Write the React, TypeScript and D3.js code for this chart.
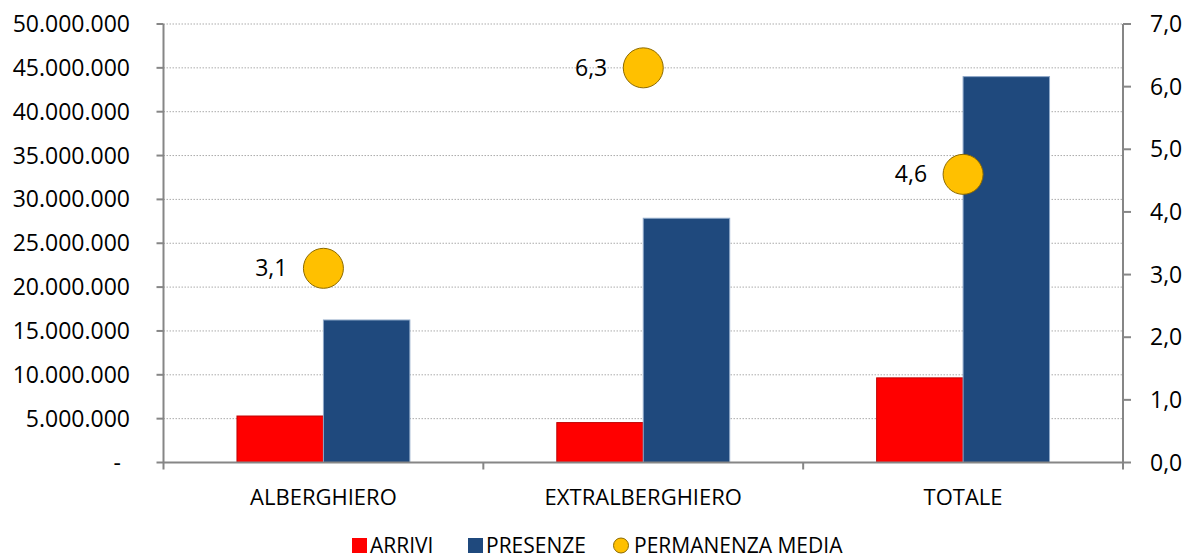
import React from 'react';
import * as d3 from 'd3';

// values
const categories = ['ALBERGHIERO', 'EXTRALBERGHIERO', 'TOTALE'];
const arrivi = [5300000, 4550000, 9650000];
const presenze = [16250000, 27850000, 44000000];
const permanenza = [3.1, 6.3, 4.6];
const leftTicks = [0, 5e6, 10e6, 15e6, 20e6, 25e6, 30e6, 35e6, 40e6, 45e6, 50e6];
const rightTicks = [0, 1, 2, 3, 4, 5, 6, 7];
const seriesNames = ['ARRIVI', 'PRESENZE'];

const W = 1187;
const H = 559;
const margin = { top: 24, right: 64, bottom: 96.5, left: 163.5 };
const FONT = '"Open Sans", sans-serif';

const itLocale = d3.formatLocale({ decimal: ',', thousands: '.', grouping: [3], currency: ['€', ''] });
const fmtBig = itLocale.format(',.0f');
const fmtSmall = itLocale.format('.1f');

const colors = { ARRIVI: '#FF0000', PRESENZE: '#1F497D' };
const strokes = { ARRIVI: '#C00000', PRESENZE: '#8FA8C8' };

const App: React.FC = () => {
  const x0 = margin.left;
  const x1 = W - margin.right;
  const yBottom = H - margin.bottom;

  const x = d3.scaleBand().domain(categories).range([x0, x1]).padding(0);
  const xSeries = d3.scaleBand().domain(seriesNames).range([0, x.bandwidth()]).paddingInner(0).paddingOuter(0.85);
  const yLeft = d3.scaleLinear().domain([0, 50e6]).range([yBottom, margin.top]);
  const yRight = d3.scaleLinear().domain([0, 7]).range([yBottom, margin.top]);

  const axisColor = '#868686';
  const legendY = 553; // text baseline

  return (
    <div style={{ position: 'fixed', left: 0, top: 0, width: W, height: H, background: '#fff' }}>
      <svg width={W} height={H} style={{ display: 'block', fontFamily: FONT }}>
        {/* gridlines */}
        {leftTicks.filter(t => t > 0).map(t => (
          <line key={'g' + t} x1={x0} x2={x1} y1={yLeft(t)} y2={yLeft(t)}
            stroke="#ABABAB" strokeWidth={1} strokeDasharray="1.5 1.5" />
        ))}

        {/* bars */}
        {categories.map((c, i) => (
          <g key={c} transform={`translate(${x(c)},0)`}>
            {seriesNames.map(s => {
              const v = s === 'ARRIVI' ? arrivi[i] : presenze[i];
              return (
                <rect key={s} x={xSeries(s)} y={yLeft(v)} width={xSeries.bandwidth()}
                  height={yBottom - yLeft(v)} fill={colors[s]} stroke={strokes[s]} strokeWidth={1} />
              );
            })}
          </g>
        ))}

        {/* left axis */}
        <line x1={x0} x2={x0} y1={margin.top} y2={yBottom + 7} stroke={axisColor} strokeWidth={2} />
        {leftTicks.map(t => (
          <g key={'l' + t}>
            <line x1={x0 - 7} x2={x0} y1={yLeft(t)} y2={yLeft(t)} stroke={axisColor} strokeWidth={2} />
            <text x={t === 0 ? 121 : 130} y={yLeft(t)} dy="0.35em" textAnchor="end" fontSize={23} fill="#000">
              {t === 0 ? '-' : fmtBig(t)}
            </text>
          </g>
        ))}

        {/* right axis */}
        <line x1={x1} x2={x1} y1={margin.top} y2={yBottom + 7} stroke={axisColor} strokeWidth={2} />
        {rightTicks.map(t => (
          <g key={'r' + t}>
            <line x1={x1} x2={x1 + 8} y1={yRight(t)} y2={yRight(t)} stroke={axisColor} strokeWidth={2} />
            <text x={1150} y={yRight(t)} dy="0.35em" textAnchor="start" fontSize={23} fill="#000">
              {fmtSmall(t)}
            </text>
          </g>
        ))}

        {/* bottom axis */}
        <line x1={x0} x2={x1} y1={yBottom} y2={yBottom} stroke={axisColor} strokeWidth={2} />
        {categories.slice(1).map(c => (
          <line key={'b' + c} x1={x(c)} x2={x(c)} y1={yBottom} y2={yBottom + 7} stroke={axisColor} strokeWidth={2} />
        ))}
        {categories.map(c => (
          <text key={'c' + c} x={(x(c) || 0) + x.bandwidth() / 2} y={505} textAnchor="middle" fontSize={22} fill="#000">
            {c}
          </text>
        ))}

        {/* permanenza media */}
        {categories.map((c, i) => {
          const cx = (x(c) || 0) + x.bandwidth() / 2;
          const cy = yRight(permanenza[i]);
          return (
            <g key={'p' + c}>
              <circle cx={cx} cy={cy} r={20} fill="#FFC000" stroke="#8C6A00" strokeWidth={1} />
              <text x={cx - 36} y={cy} dy="0.35em" textAnchor="end" fontSize={23} fill="#000">
                {fmtSmall(permanenza[i])}
              </text>
            </g>
          );
        })}

        {/* legend */}
        <rect x={352} y={legendY - 15} width={15} height={15} fill={colors.ARRIVI} />
        <text x={370} y={legendY} fontSize={21} fill="#000">ARRIVI</text>
        <rect x={468} y={legendY - 15} width={15} height={15} fill={colors.PRESENZE} />
        <text x={486} y={legendY} fontSize={21} fill="#000">PRESENZE</text>
        <circle cx={621} cy={legendY - 7.5} r={7.5} fill="#FFC000" stroke="#8C6A00" strokeWidth={1} />
        <text x={634} y={legendY} fontSize={21} fill="#000">PERMANENZA MEDIA</text>
      </svg>
    </div>
  );
};

export default App;
